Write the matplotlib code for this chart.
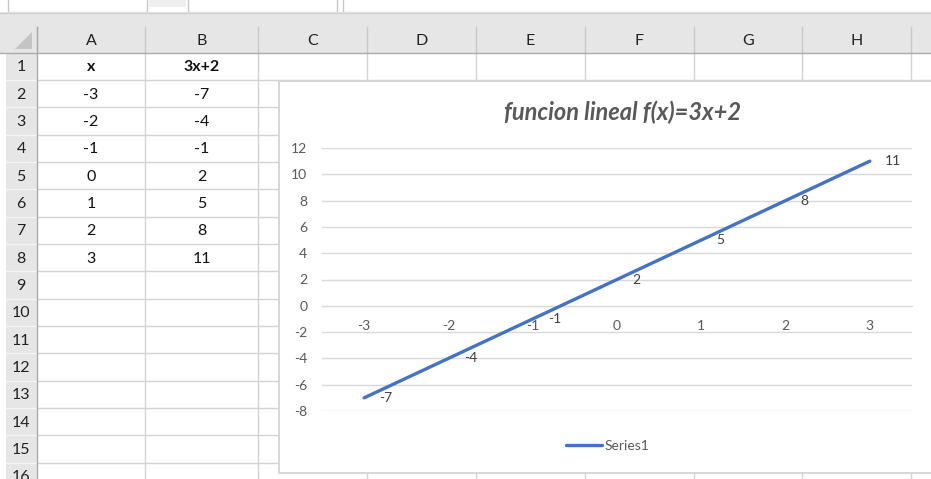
import matplotlib
matplotlib.use("Agg")
import matplotlib.pyplot as plt
from matplotlib.patches import Rectangle, Polygon

plt.rcParams['font.family'] = ['Lato', 'DejaVu Sans']
plt.rcParams['axes.unicode_minus'] = False

# worksheet data
x_vals = [-3, -2, -1, 0, 1, 2, 3]
y_vals = [-7, -4, -1, 2, 5, 8, 11]
col_headers = ['x', '3x+2']
col_letters = ['A', 'B', 'C', 'D', 'E', 'F', 'G', 'H', 'I']
chart_title = 'funcion lineal f(x)=3x+2'
series_name = 'Series1'
y_ticks = [12, 10, 8, 6, 4, 2, 0, -2, -4, -6, -8]

W, H = 931, 479
fig = plt.figure(figsize=(W / 100, H / 100), dpi=100)
fig.patch.set_facecolor('white')

# sheet drawn in pixel coordinates
bg = fig.add_axes([0, 0, 1, 1])
bg.set_xlim(0, W)
bg.set_ylim(H, 0)
bg.axis('off')

grid_c = '#d4d4d4'
head_bg = '#e6e6e6'
head_line = '#ababab'
cell_font = 11.5
chart_font = 10

col_edges = [37, 145, 258, 367, 476, 585, 694, 802, 911, 1020]
row_top = 52.5
row_h = 27.35
n_rows = 16

# toolbar boxes at the top
bg.add_patch(Rectangle((0, 0), W, 12, facecolor='white', edgecolor='none'))
for x0, x1 in [(8, 147), (188, 337), (343, W + 5)]:
    bg.add_patch(Rectangle((x0, -5), x1 - x0, 17, facecolor='white',
                           edgecolor='#c8c8c8', lw=1))
bg.add_patch(Rectangle((149, -2), 37, 9, facecolor='#efefef', edgecolor='none'))

# header band
bg.add_patch(Rectangle((0, 12), W, row_top - 12, facecolor=head_bg, edgecolor='none'))
bg.plot([0, W], [12.5, 12.5], color='#cfcfcf', lw=1)
# row header column
bg.add_patch(Rectangle((6, row_top), 31, H - row_top, facecolor=head_bg, edgecolor='none'))
# corner triangle
bg.add_patch(Polygon([[15, 49], [32, 49], [32, 32]], closed=True,
                     facecolor='#c4c4c4', edgecolor='none'))

# cell grid
for x in col_edges[1:]:
    bg.plot([x, x], [row_top, H], color=grid_c, lw=1)
for r in range(1, n_rows + 1):
    y = row_top + r * row_h
    bg.plot([37, W], [y, y], color=grid_c, lw=1)
    bg.plot([6, 37], [y, y], color='#f4f4f4', lw=1)

# header separators
for x in col_edges:
    bg.plot([x, x], [27, row_top], color='#c8c8c8', lw=1)
bg.plot([0, W], [row_top, row_top], color=head_line, lw=1)
bg.plot([37, 37], [27, H], color=head_line, lw=1)

for i, letter in enumerate(col_letters):
    cx = (col_edges[i] + col_edges[i + 1]) / 2
    if cx < W:
        bg.text(cx, 40.5, letter, ha='center', va='center', fontsize=cell_font, color='#222222')

for r in range(1, n_rows + 1):
    cy = row_top + (r - 0.5) * row_h + 1
    bg.text(21, cy, str(r), ha='center', va='center', fontsize=cell_font, color='#222222')

# table contents
col_cx = [(col_edges[0] + col_edges[1]) / 2, (col_edges[1] + col_edges[2]) / 2]
cy = row_top + 0.5 * row_h + 1
for cx, name in zip(col_cx, col_headers):
    bg.text(cx, cy, name, ha='center', va='center', fontsize=cell_font,
            fontweight='bold', color='#111111')
for k, (xv, yv) in enumerate(zip(x_vals, y_vals)):
    cy = row_top + (k + 1.5) * row_h + 1
    bg.text(col_cx[0], cy, str(xv), ha='center', va='center', fontsize=cell_font, color='#111111')
    bg.text(col_cx[1], cy, str(yv), ha='center', va='center', fontsize=cell_font, color='#111111')

# chart area
bg.add_patch(Rectangle((278.5, 80.5), 700, 392.5, facecolor='white',
                       edgecolor='#d4d4d4', lw=1.3, zorder=5))
bg.text(623, 112, chart_title, ha='center', va='center', fontsize=17,
        fontweight='bold', fontstyle='italic', color='#595959', zorder=6)

# plot area
ax = fig.add_axes([322 / W, 1 - 411 / H, 590 / W, 263 / H], zorder=10)
ax.patch.set_alpha(0)
cats = list(range(len(x_vals)))
ax.set_xlim(-0.5, len(x_vals) - 0.5)
ax.set_ylim(-8, 12)
ax.set_yticks(y_ticks)
ax.set_xticks(cats)
ax.set_xticklabels([str(v) for v in x_vals])
ax.grid(axis='y', color='#d9d9d9', lw=1.0)
ax.set_axisbelow(True)
for s in ['left', 'right', 'top']:
    ax.spines[s].set_visible(False)
ax.spines['bottom'].set_position(('data', 0))
ax.spines['bottom'].set_color('#d9d9d9')
ax.tick_params(axis='y', length=0, pad=10.5, labelsize=chart_font, labelcolor='#595959')
ax.tick_params(axis='x', length=0, pad=10.5, labelsize=chart_font, labelcolor='#595959')

ax.plot(cats, y_vals, color='#4472C4', lw=2.4, solid_capstyle='round',
        label=series_name, zorder=3)
for c, v in zip(cats, y_vals):
    ax.annotate(str(v), (c, v), xytext=(11, 0), textcoords='offset points',
                ha='left', va='center', fontsize=chart_font, color='#404040', zorder=4)

ax.legend(loc='center', bbox_to_anchor=(608 / W, 1 - 446 / H),
          bbox_transform=fig.transFigure, frameon=False, fontsize=chart_font,
          handlelength=2.6, handletextpad=0.2, labelcolor='#595959')

fig.savefig('out.png', dpi=100)
